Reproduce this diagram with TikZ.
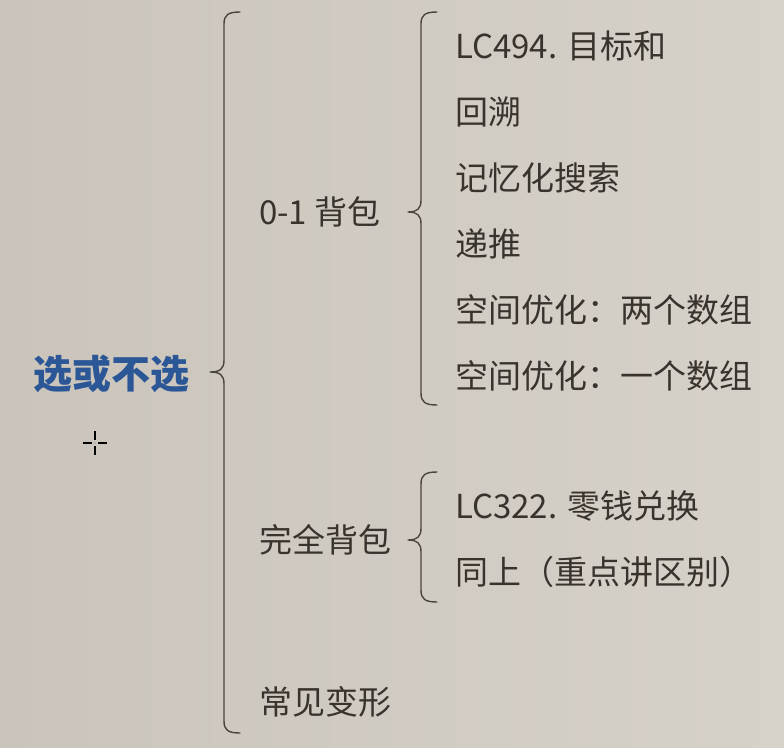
\documentclass[tikz,border=0pt]{standalone}
\usepackage{fontspec}
\setmainfont{Noto Sans CJK SC}
\definecolor{bgL}{HTML}{CAC4BB}
\definecolor{bgR}{HTML}{D7D2C9}
\definecolor{txt}{HTML}{39332D}
\definecolor{ttl}{HTML}{2B5797}
\definecolor{brc}{HTML}{4A443E}
\tikzset{
  title/.style={font=\fontsize{39}{44}\selectfont\bfseries, text=ttl, inner sep=0pt, anchor=west},
  lvl/.style={font=\fontsize{33}{38}\selectfont, text=txt, inner sep=0pt, anchor=west},
  brace/.style={draw=brc, line width=1.4pt, line cap=round, line join=round}
}
\begin{document}
\begin{tikzpicture}[x=1pt,y=-1pt]
\shade[left color=bgL, right color=bgR] (0,0) rectangle (784,747);
\useasboundingbox (0,0) rectangle (784,747);

% nodes
\node[title] (root) at (33,374) {选或不选};
\node[lvl] (a) at (259,212) {0-1 背包};
\node[lvl] (b) at (259,540) {完全背包};
\node[lvl] (c) at (259,702) {常见变形};

\node[lvl] (a1) at (455,46) {LC494. 目标和};
\node[lvl] (a2) at (455,112) {回溯};
\node[lvl] (a3) at (455,178) {记忆化搜索};
\node[lvl] (a4) at (455,244) {递推};
\node[lvl] (a5) at (455,310) {空间优化：两个数组};
\node[lvl] (a6) at (455,376) {空间优化：一个数组};

\node[lvl] (b1) at (455,506) {LC322. 零钱兑换};
\node[lvl] (b2) at (455,572) {同上（重点讲区别）};

% brace coordinates
\coordinate (B0top) at (240,12);
\coordinate (B0tip) at (210,372);
\coordinate (B0bot) at (240,733);
\coordinate (B1top) at (437,12);
\coordinate (B1tip) at (408,212);
\coordinate (B1bot) at (437,405);
\coordinate (B2top) at (437,472);
\coordinate (B2tip) at (408,540);
\coordinate (B2bot) at (437,602);

% big brace
\draw[brace] (B0top) .. controls (228,12) and (224,15) .. (224,24)
  -- (224,360) .. controls (224,369) and (220,372) .. (B0tip)
  .. controls (220,372) and (224,375) .. (224,384)
  -- (224,721) .. controls (224,730) and (228,733) .. (B0bot);
% brace 0-1
\draw[brace] (B1top) .. controls (425,12) and (421,15) .. (421,24)
  -- (421,200) .. controls (421,209) and (417,212) .. (B1tip)
  .. controls (417,212) and (421,215) .. (421,224)
  -- (421,393) .. controls (421,402) and (425,405) .. (B1bot);
% brace complete
\draw[brace] (B2top) .. controls (425,472) and (421,475) .. (421,484)
  -- (421,528) .. controls (421,537) and (417,540) .. (B2tip)
  .. controls (417,540) and (421,543) .. (421,552)
  -- (421,590) .. controls (421,599) and (425,602) .. (B2bot);

% mouse cursor (crosshair)
\coordinate (cur) at (95,443);
\foreach \dx/\dy/\ex/\ey in {3/0/12/0, -3/0/-12/0, 0/3/0/12, 0/-3/0/-12}{
  \draw[white, line width=2.8pt] ([shift={(\dx,\dy)}]cur) -- ([shift={(\ex,\ey)}]cur);
  \draw[black, line width=1.3pt] ([shift={(\dx,\dy)}]cur) -- ([shift={(\ex,\ey)}]cur);
}
\fill[gray!70] (cur) circle (1pt);
\end{tikzpicture}
\end{document}
